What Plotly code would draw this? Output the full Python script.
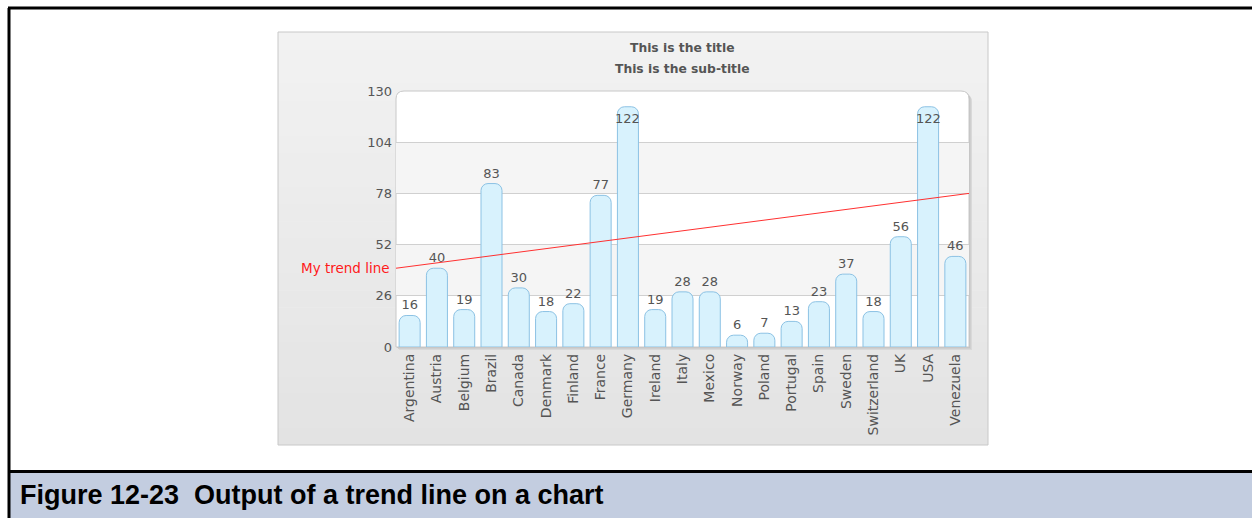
import plotly.graph_objects as go

# data
countries = ['Argentina', 'Austria', 'Belgium', 'Brazil', 'Canada', 'Denmark', 'Finland',
             'France', 'Germany', 'Ireland', 'Italy', 'Mexico', 'Norway', 'Poland',
             'Portugal', 'Spain', 'Sweden', 'Switzerland', 'UK', 'USA', 'Venezuela']
values = [16, 40, 19, 83, 30, 18, 22, 77, 122, 19, 28, 28, 6, 7, 13, 23, 37, 18, 56, 122, 46]
y_ticks = [0, 26, 52, 78, 104, 130]
trend_start = 40
trend_end = 78
trend_label = 'My trend line'
title = 'This is the title'
subtitle = 'This is the sub-title'
caption = 'Figure 12-23  Output of a trend line on a chart'

W, H = 1252, 518
Y_MAX = 130


def X(px):
    return px / W


def Y(py):
    return 1 - py / H


# plot area in pixels
L, R, T, B = 396, 969, 91, 347

FONT = 'DejaVu Sans'
GREY = '#555555'

shapes = []

# chart panel with a soft vertical gradient
p_l, p_r, p_t, p_b = 278, 988, 32, 445
n = 24
c0, c1 = 242, 227
for i in range(n):
    c = round(c0 + (c1 - c0) * i / (n - 1))
    y0 = p_t + (p_b - p_t) * i / n
    y1 = p_t + (p_b - p_t) * (i + 1) / n + 0.5
    shapes.append(dict(type='rect', xref='paper', yref='paper', layer='below',
                       x0=X(p_l), x1=X(p_r), y0=Y(y0), y1=Y(min(y1, p_b)),
                       fillcolor=f'rgb({c},{c},{c})', line=dict(width=0)))
shapes.append(dict(type='rect', xref='paper', yref='paper', layer='below',
                   x0=X(p_l), x1=X(p_r), y0=Y(p_t), y1=Y(p_b),
                   line=dict(color='#c8c8c8', width=1)))


def rounded(l, t, r, b, rad):
    return (f'M {X(l)} {Y(b)} L {X(l)} {Y(t + rad)} Q {X(l)} {Y(t)} {X(l + rad)} {Y(t)} '
            f'L {X(r - rad)} {Y(t)} Q {X(r)} {Y(t)} {X(r)} {Y(t + rad)} L {X(r)} {Y(b)} Z')


# shadow + white plot area with rounded top corners
for off, col in [(3, '#d9d9d9'), (2, '#cfcfcf'), (1, '#c4c4c4')]:
    shapes.append(dict(type='path', xref='paper', yref='paper', layer='below',
                       path=rounded(L + off, T + off, R + off, B + off, 8),
                       fillcolor=col, line=dict(width=0)))
shapes.append(dict(type='path', xref='paper', yref='paper', layer='below',
                   path=rounded(L, T, R, B, 8), fillcolor='white',
                   line=dict(color='#c8c8c8', width=1)))

# alternate bands
for lo, hi in [(26, 52), (78, 104)]:
    shapes.append(dict(type='rect', xref='x domain', yref='y', layer='below',
                       x0=0, x1=1, y0=lo, y1=hi, fillcolor='#f5f5f5', line=dict(width=0)))

# trend line
shapes.append(dict(type='line', xref='x domain', yref='y', layer='above',
                   x0=0, x1=1, y0=trend_start, y1=trend_end,
                   line=dict(color='#ff3030', width=1)))

# outer frame and caption bar
shapes.append(dict(type='rect', xref='paper', yref='paper', layer='below',
                   x0=X(9), x1=X(1252), y0=Y(472), y1=Y(518),
                   fillcolor='#c3cde0', line=dict(width=0)))
shapes.append(dict(type='line', xref='paper', yref='paper', x0=X(8), x1=X(1252),
                   y0=Y(8), y1=Y(8), line=dict(color='black', width=3)))
shapes.append(dict(type='line', xref='paper', yref='paper', x0=X(9), x1=X(9),
                   y0=Y(8), y1=Y(518), line=dict(color='black', width=3)))
shapes.append(dict(type='line', xref='paper', yref='paper', x0=X(8), x1=X(1252),
                   y0=Y(471.5), y1=Y(471.5), line=dict(color='black', width=3)))

# labels that would overflow the top go inside the bar
too_tall = [v > 115 for v in values]

fig = go.Figure(go.Bar(
    x=countries, y=values,
    text=['' if t else str(v) for v, t in zip(values, too_tall)],
    textposition='outside',
    textangle=0,
    constraintext='none',
    cliponaxis=False,
    textfont=dict(family=FONT, size=13, color=GREY),
    marker=dict(color='#d8f2fd', line=dict(color='#8cc2e4', width=1), cornerradius=7),
    hoverinfo='x+y',
))

annotations = [
    dict(text=f'<b>{title}</b>', x=X((L + R) / 2), y=Y(48), xref='paper', yref='paper',
         xanchor='center', yanchor='middle', showarrow=False,
         font=dict(family=FONT, size=12.3, color=GREY)),
    dict(text=f'<b>{subtitle}</b>', x=X((L + R) / 2), y=Y(69), xref='paper', yref='paper',
         xanchor='center', yanchor='middle', showarrow=False,
         font=dict(family=FONT, size=12.3, color=GREY)),
    dict(text=trend_label, x=0, xref='x domain', y=trend_start, yref='y',
         xanchor='right', yanchor='middle', xshift=-4, showarrow=False,
         font=dict(family=FONT, size=13.5, color='#ff1a1a')),
    dict(text=f'<b>{caption}</b>', x=X(18), y=Y(495), xref='paper', yref='paper',
         xanchor='left', yanchor='middle', showarrow=False,
         font=dict(family='Liberation Sans, Arial', size=27, color='black')),
]
for c, v, t in zip(countries, values, too_tall):
    if t:
        annotations.append(dict(text=str(v), x=c, y=v, xref='x', yref='y',
                                yanchor='middle', yshift=-12, showarrow=False,
                                font=dict(family=FONT, size=13, color=GREY)))

fig.update_layout(
    width=W, height=H, autosize=False,
    margin=dict(l=0, r=0, t=0, b=0, pad=0, autoexpand=False),
    paper_bgcolor='white', plot_bgcolor='rgba(0,0,0,0)',
    showlegend=False,
    bargap=0.23,
    shapes=shapes,
    annotations=annotations,
    xaxis=dict(domain=[X(L), X(R)], tickangle=-90, showgrid=False, showline=False,
               ticks='', ticklabelstandoff=3, automargin=False,
               tickfont=dict(family=FONT, size=14, color=GREY), fixedrange=True),
    yaxis=dict(domain=[Y(B), Y(T)], range=[0, Y_MAX], tickvals=y_ticks, showgrid=True,
               gridcolor='#d0d0d0', gridwidth=1, zeroline=False, showline=False, ticks='',
               ticklabelstandoff=3, automargin=False,
               tickfont=dict(family=FONT, size=13, color=GREY), fixedrange=True),
)

post = ("document.body.style.margin='0';document.body.style.overflow='hidden';")

fig.write_html('out.html', config={'displayModeBar': False}, post_script=post)
